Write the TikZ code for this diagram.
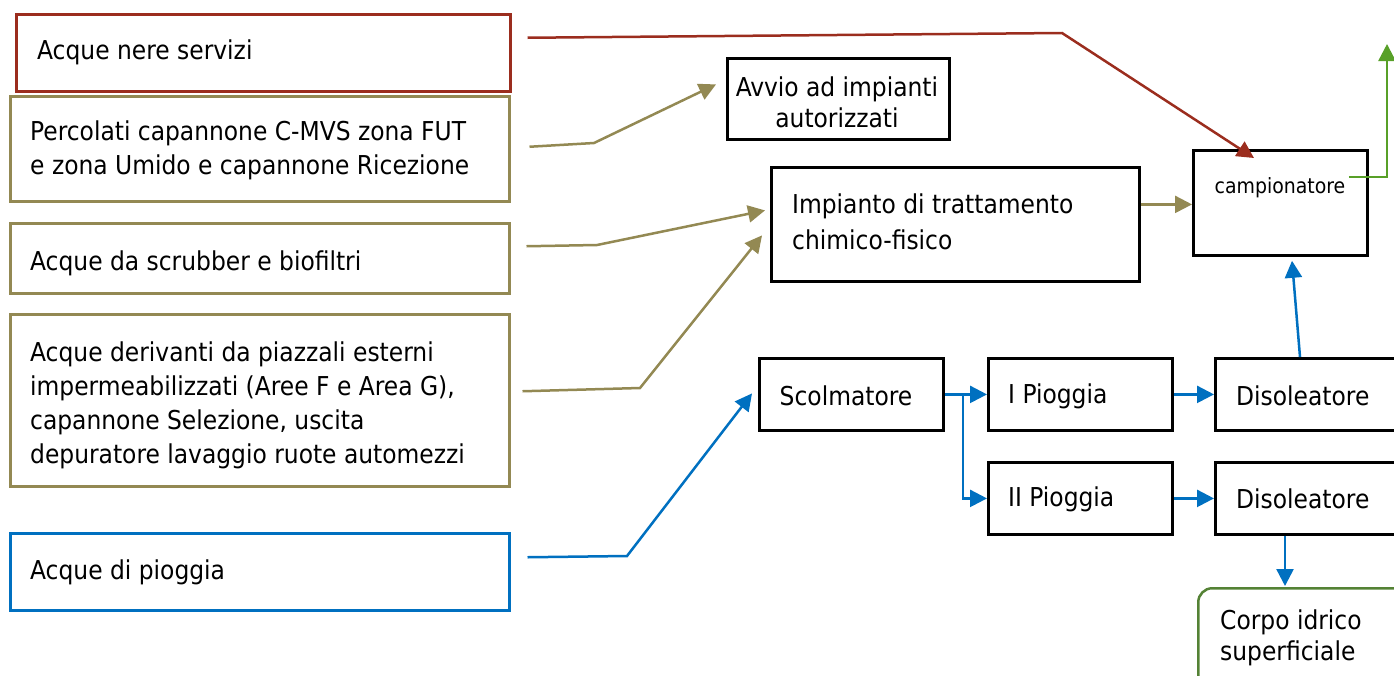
\documentclass[tikz,border=0pt]{standalone}
\usepackage{fontspec}
\setmainfont{DejaVu Sans Condensed}
\usetikzlibrary{arrows.meta,calc}

\definecolor{cred}{RGB}{155,45,30}
\definecolor{colive}{RGB}{147,137,83}
\definecolor{cblue}{RGB}{0,112,192}
\definecolor{cgreen}{RGB}{88,160,40}
\definecolor{cgreenbox}{RGB}{84,130,53}

\tikzset{
  box/.style={draw, rectangle, inner sep=0pt, anchor=north west, line width=2.5pt},
  blackbox/.style={box, draw=black, line width=2.8pt},
  txt/.style={inner sep=0pt, align=left, font=\fontsize{26}{34}\selectfont},
  link/.style={line width=2.5pt, -{Triangle[length=17pt,width=17pt]}},
}

\begin{document}
\begin{tikzpicture}[x=1pt,y=-1pt]
\useasboundingbox (0,0) rectangle (1394,675);
\clip (0,0) rectangle (1394,675);

% source boxes on the left
\node[box, draw=cred, minimum width=494, minimum height=77] (nere) at (15,13) {};
\node[txt, anchor=west] (nere-t) at (37,52) {Acque nere servizi};

\node[box, draw=colive, minimum width=499, minimum height=105] (perc) at (9,95) {};
\node[txt, anchor=west] (perc-t) at (30,150) {Percolati capannone C-MVS zona FUT\\e zona Umido e capannone Ricezione};

\node[box, draw=colive, minimum width=499, minimum height=70] (scrub) at (9,222) {};
\node[txt, anchor=west] (scrub-t) at (30,263) {Acque da scrubber e biofiltri};

\node[box, draw=colive, minimum width=499, minimum height=172] (piaz) at (9,313) {};
\node[txt, anchor=west] (piaz-t) at (30,405) {Acque derivanti da piazzali esterni\\impermeabilizzati (Aree F e Area G),\\capannone Selezione, uscita\\depuratore lavaggio ruote automezzi};

\node[box, draw=cblue, minimum width=499, minimum height=77] (piog) at (9,532) {};
\node[txt, anchor=west] (piog-t) at (30,572) {Acque di pioggia};

% treatment boxes
\node[blackbox, minimum width=222, minimum height=81] (avvio) at (726,57) {};
\node[txt, align=center, font=\fontsize{26}{31}\selectfont] (avvio-t) at (837,102) {Avvio ad impianti\\autorizzati};

\node[blackbox, minimum width=368, minimum height=114] (imp) at (770,166) {};
\node[txt, anchor=west, font=\fontsize{26}{36}\selectfont] (imp-t) at (792,222) {Impianto di trattamento\\chimico-fisico};

\node[blackbox, minimum width=174, minimum height=105] (camp) at (1192,149) {};
\node[txt, font=\fontsize{21}{25}\selectfont] (camp-t) at (1280,188) {campionatore};

% rainwater line
\node[blackbox, minimum width=184, minimum height=72] (scol) at (758,357) {};
\node[txt] (scol-t) at (846,396) {Scolmatore};

\node[blackbox, minimum width=184, minimum height=72] (p1) at (987,357) {};
\node[txt, anchor=west] (p1-t) at (1008,396) {I Pioggia};

\node[blackbox, minimum width=200, minimum height=72] (dis1) at (1214,357) {};
\node[txt, anchor=west] (dis1-t) at (1236,396) {Disoleatore};

\node[blackbox, minimum width=184, minimum height=72] (p2) at (987,461) {};
\node[txt, anchor=west] (p2-t) at (1008,499) {II Pioggia};

\node[blackbox, minimum width=200, minimum height=72] (dis2) at (1214,461) {};
\node[txt, anchor=west] (dis2-t) at (1236,499) {Disoleatore};

\node[box, draw=cgreenbox, rounded corners=14pt, minimum width=230, minimum height=120] (corpo) at (1197,587) {};
\node[txt, anchor=west, font=\fontsize{26}{31}\selectfont] (corpo-t) at (1220,638) {Corpo idrico\\superficiale};

% connector bend points and free ends
\coordinate (r0) at ($(nere.east)+(16,-15)$);
\coordinate (r1) at (1062,33);
\coordinate (o0) at ($(perc.east)+(19,-2)$);
\coordinate (o1) at (594,143);
\coordinate (s0) at ($(scrub.east)+(16,-12)$);
\coordinate (s1) at (597,245);
\coordinate (q0) at ($(piaz.east)+(12,-9)$);
\coordinate (q1) at (640,388);
\coordinate (b0) at ($(piog.east)+(17,-14.5)$);
\coordinate (b1) at (627,556);
\coordinate (split) at (963,393);
\coordinate (g0) at ($(camp.north east)+(-20,28)$);
\coordinate (g1) at (1387,177);
\coordinate (gT) at (1387,44);

% connectors
\draw[link, cred] (r0) -- (r1) -- ($(camp.north west)+(62,9)$);
\draw[link, colive] (o0) -- (o1) -- ($(avvio.west)+(-10,-14.5)$);
\draw[link, colive] (s0) -- (s1) -- ($(imp.west)+(-5,-14)$);
\draw[link, colive] (q0) -- (q1) -- ($(imp.west)+(-8,11)$);
\draw[link, colive] ($(imp.east)+(0,-20)$) -- ($(camp.west)+(0,1.5)$);
\draw[link, cblue] (b0) -- (b1) -- ($(scol.west)+(-6,-1)$);
\draw[link, cblue] (scol.east) -- (p1.west);
\draw[link, cblue] (split) |- (p2.west);
\draw[link, cblue] (p1.east) -- (dis1.west);
\draw[link, cblue] (p2.east) -- (dis2.west);
\draw[link, cblue] ($(dis1.north west)+(86,0)$) -- ($(camp.south west)+(100,4)$);
\draw[link, cblue] ($(dis2.south west)+(71,0)$) -- ($(corpo.north west)+(88,-1)$);
\draw[link, cgreen] (g0) -- (g1) -- (gT);
\end{tikzpicture}
\end{document}
